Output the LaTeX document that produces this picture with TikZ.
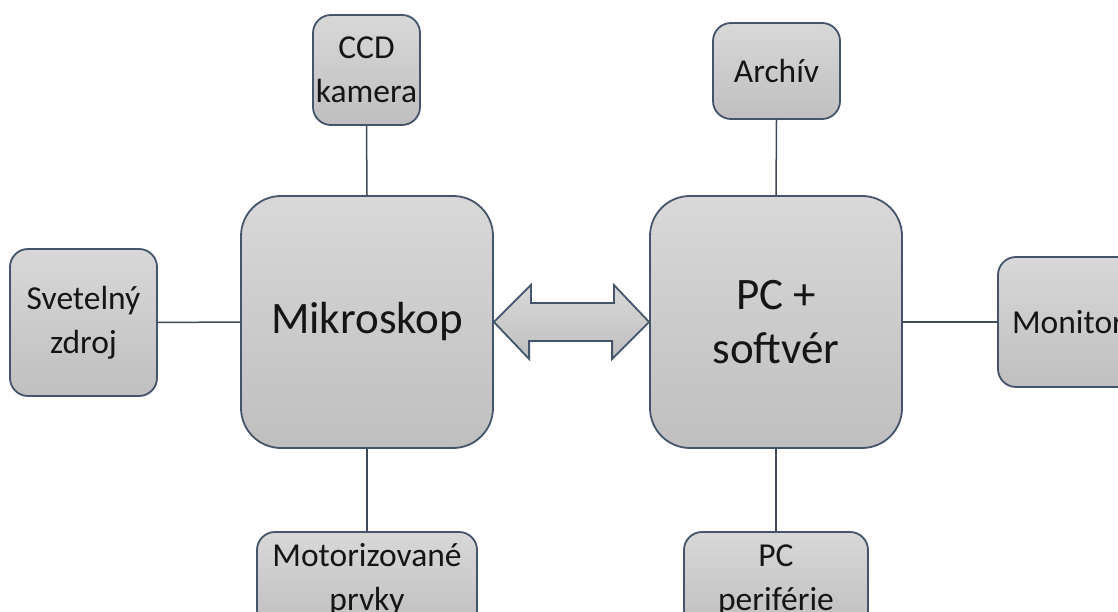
\documentclass[tikz,border=0pt]{standalone}
\usepackage{fontspec}
\setmainfont{Carlito}
\definecolor{edge}{HTML}{44546A}
\definecolor{wire}{HTML}{3F4A58}
\definecolor{filltop}{HTML}{D8D8D8}
\definecolor{fillbot}{HTML}{BFBFBF}
\definecolor{ink}{HTML}{151515}
\tikzset{
  unitbox/.style={draw=edge, line width=1.8pt, top color=filltop, bottom color=fillbot,
    align=center, text=ink, inner sep=0pt},
  mainbox/.style={unitbox, rounded corners=40pt, minimum width=252pt, minimum height=252pt,
    font=\fontsize{45}{54}\selectfont},
  sidebox/.style={unitbox, rounded corners=18pt, font=\fontsize{33.5}{44}\selectfont},
  wireline/.style={draw=wire, line width=1.5pt}
}
\begin{document}
\begin{tikzpicture}[x=1pt,y=-1pt]
  \useasboundingbox (0,0) rectangle (1118,612);
  \clip (0,0) rectangle (1118,612);
  \fill[white] (0,0) rectangle (1118,612);

  % central units
  \node[mainbox] (mik) at (367,322) {Mikroskop};
  \node[mainbox] (pc)  at (776,322) {PC +\\softvér};

  % peripheral units
  \node[sidebox, minimum width=107pt, minimum height=110pt] (ccd) at (366.5,70) {CCD\\kamera};
  \node[sidebox, minimum width=147pt, minimum height=147pt] (svet) at (83.5,322.5) {Svetelný\\zdroj};
  \node[sidebox, minimum width=220pt, minimum height=96pt] (mot) at (367,580) {Motorizované\\prvky};
  \node[sidebox, minimum width=127pt, minimum height=96pt] (arch) at (776.5,71) {Archív};
  \node[sidebox, minimum width=140pt, minimum height=130pt] (mon) at (1068,322) {Monitor};
  \node[sidebox, minimum width=184pt, minimum height=96pt] (per) at (776,580) {PC\\periférie};

  % connections
  \draw[wireline] (ccd.south) -- (mik.north);
  \draw[wireline] (svet.east) -- (mik.west);
  \draw[wireline] (mot.north) -- (mik.south);
  \draw[wireline] (arch.south) -- (pc.north);
  \draw[wireline] (mon.west) -- (pc.east);
  \draw[wireline] (per.north) -- (pc.south);

  % two-way data link between microscope and PC
  \coordinate (la) at (mik.east);
  \coordinate (ra) at (pc.west);
  \draw[edge, line width=1.8pt, top color=filltop, bottom color=fillbot, line join=miter]
    (la) -- ++(37,-37) -- ++(0,18) -- ++(83,0) -- ++(0,-18) -- (ra)
         -- ++(-37,37) -- ++(0,-18) -- ++(-83,0) -- ++(0,18) -- cycle;
\end{tikzpicture}
\end{document}
